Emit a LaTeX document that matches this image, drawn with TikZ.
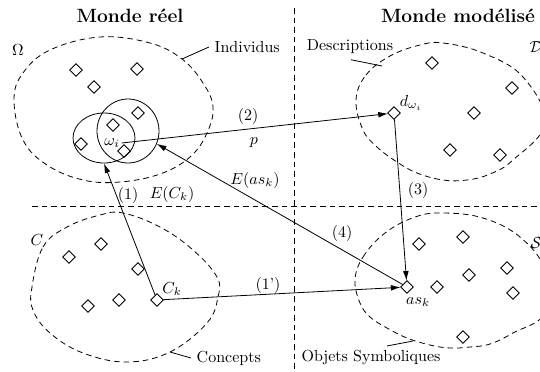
\documentclass[tikz,border=0pt]{standalone}
\usetikzlibrary{shapes.geometric,arrows.meta,calc}
\begin{document}
\begin{tikzpicture}[x=0.625pt,y=-0.625pt,line width=0.5pt,
  obj/.style={diamond,draw,minimum size=8pt,inner sep=0pt},
  blob/.style={dashed,dash pattern=on 3.5pt off 2.5pt},
  sep/.style={dashed,dash pattern=on 3.5pt off 2.5pt},
  arr/.style={-{Latex[length=6pt,width=3.6pt]}},
  title/.style={font=\large\bfseries},
  lab/.style={inner sep=1pt}]
\useasboundingbox (0,0) rectangle (540,371);
\clip (0,0) rectangle (540,371);
% titles
\node[title] (t1) at (130,16) {Monde réel};
\node[title] (t2) at (458,16) {Monde modélisé};
% separators
\draw[sep] (294,8) -- (294,371);
\draw[sep] (32,206) -- (545,206);
% blobs
\draw[blob] plot[smooth cycle,tension=0.65] coordinates {(14,100) (23,73) (50,50) (100,37) (150,43) (182,59) (203,83) (213,107) (207,133) (190,157) (160,174) (120,182) (83,180) (47,165) (23,140)};
\draw[blob] plot[smooth cycle,tension=0.65] coordinates {(356,100) (366,75) (390,56) (420,45) (443,43) (483,53) (523,77) (545,123) (513,160) (490,174) (467,180) (443,180) (417,173) (397,162) (377,147) (363,130)};
\draw[blob] plot[smooth cycle,tension=0.65] coordinates {(32,287) (43,247) (67,227) (100,215) (123,213) (160,227) (193,250) (217,277) (218,297) (207,323) (170,352) (127,362) (83,353) (50,333) (33,310)};
\draw[blob] plot[smooth cycle,tension=0.65] coordinates {(355,280) (363,257) (385,233) (415,217) (443,213) (483,218) (520,237) (545,270) (545,313) (513,333) (490,344) (470,347) (450,348) (430,345) (407,338) (387,328) (370,317) (360,303)};
% set labels
\node (lOmega) at (18,50) {$\Omega$};
\node (lC) at (37,240) {$C$};
\node (lD) at (536,47) {$\mathcal{D}$};
\node (lS) at (536,243) {$\mathcal{S}$};
% captions with pointers
\node[anchor=west] (ind) at (209,47) {Individus};
\coordinate (pind) at (182,59);
\draw (pind) -- (ind.west);
\node (desc) at (350,47) {Descriptions};
\coordinate (pdesc) at (382,66);
\draw ($(desc.south)+(1,0)$) -- (pdesc);
\node[anchor=west] (conc) at (191,358) {Concepts};
\coordinate (pconc) at (170,352);
\draw (pconc) -- (conc.west);
\node (osym) at (371,357) {Objets Symboliques};
\coordinate (posym) at (413,341);
\draw ($(osym.north)+(16,2)$) -- (posym);
% individuals
\foreach \p [count=\i] in {(76,70),(137,69),(94,87),(138,113),(113,125),(81,144),(124,151)}
  \node[obj] (w\i) at \p {};
\node[ellipse,draw,minimum width=38.75pt,minimum height=31.25pt,inner sep=0pt] (c1) at (104,138) {};
\node[ellipse,draw,minimum width=38.75pt,minimum height=40pt,inner sep=0pt] (c2) at (128,131) {};
\node[lab] (wi) at (112,143) {$\omega_i$};
% descriptions
\foreach \p [count=\i] in {(432,63),(512,88),(474,113),(450,150),(500,155)}
  \node[obj] (d\i) at \p {};
\node[obj] (dw) at (394,113) {};
\node[lab] (ldw) at (411,103) {$d_{\omega_i}$};
% concepts
\foreach \p [count=\i] in {(69,257),(101,244),(138,269),(88,306),(119,300)}
  \node[obj] (k\i) at \p {};
\node[obj] (ck) at (157,300) {};
\node[lab] (lck) at (172,289) {$C_k$};
% symbolic objects
\foreach \p [count=\i] in {(419,244),(463,237),(469,275),(507,268),(437,287),(513,293),(463,337)}
  \node[obj] (s\i) at \p {};
\node[obj] (ask) at (407,287) {};
\node[lab] (lask) at (418,302) {$as_k$};
% arrows
\draw[arr] (wi.east) -- (dw);
\draw[arr] (dw) -- (ask);
\draw[arr] (ck) -- (ask);
\draw[arr] (ck) -- (c1.south);
\draw[arr] (ask) -- (c2.-24);
% arrow labels
\node (l2) at (248,116) {(2)};
\node (lp) at (254,143) {$p$};
\node (l3) at (418,190) {(3)};
\node (l4) at (342,233) {(4)};
\node (l1p) at (268,285) {(1')};
\node (l1) at (128,195) {(1)};
\node (lEC) at (172,194) {$E(C_k)$};
\node (lEas) at (255,180) {$E(as_k)$};
\end{tikzpicture}
\end{document}
